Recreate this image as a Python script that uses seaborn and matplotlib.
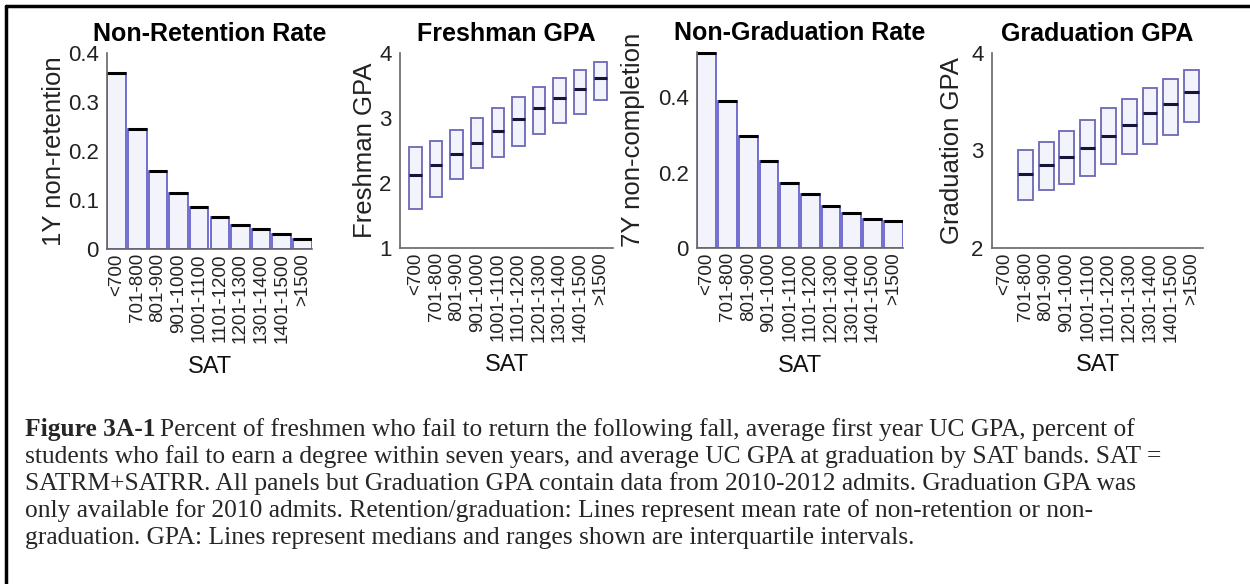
import matplotlib
matplotlib.use("Agg")
import matplotlib.pyplot as plt
from matplotlib.lines import Line2D
import seaborn as sns

# SAT bands shared by all four panels
sat_bands = ["<700", "701-800", "801-900", "901-1000", "1001-1100",
             "1101-1200", "1201-1300", "1301-1400", "1401-1500", ">1500"]

# mean rates
non_retention = [0.359, 0.244, 0.159, 0.115, 0.086, 0.066, 0.048, 0.041, 0.030, 0.021]
non_graduation = [0.517, 0.390, 0.296, 0.232, 0.172, 0.143, 0.112, 0.094, 0.077, 0.071]

# freshman GPA: quartiles
fresh_q1 = [1.60, 1.79, 2.06, 2.23, 2.40, 2.57, 2.75, 2.92, 3.06, 3.28]
fresh_med = [2.12, 2.27, 2.45, 2.61, 2.80, 2.98, 3.15, 3.30, 3.45, 3.61]
fresh_q3 = [2.56, 2.65, 2.82, 3.00, 3.16, 3.33, 3.48, 3.61, 3.74, 3.86]

# graduation GPA: no data for <700
grad_bands = sat_bands[1:]
grad_q1 = [2.49, 2.59, 2.66, 2.74, 2.86, 2.96, 3.07, 3.16, 3.29]
grad_med = [2.76, 2.85, 2.93, 3.03, 3.15, 3.26, 3.38, 3.48, 3.60]
grad_q3 = [3.00, 3.09, 3.20, 3.31, 3.44, 3.53, 3.64, 3.73, 3.83]

caption_lines = [
    "Percent of freshmen who fail to return the following fall, average first year UC GPA, percent of",
    "students who fail to earn a degree within seven years, and average UC GPA at graduation by SAT bands. SAT =",
    "SATRM+SATRR. All panels but Graduation GPA contain data from 2010-2012 admits. Graduation GPA was",
    "only available for 2010 admits. Retention/graduation: Lines represent mean rate of non-retention or non-",
    "graduation. GPA: Lines represent medians and ranges shown are interquartile intervals.",
]

sns.set_theme(style="white")
plt.rcParams["font.family"] = ["Liberation Sans", "DejaVu Sans"]

W, H = 1250, 584
fig = plt.figure(figsize=(W / 100, H / 100), dpi=100)

edge_col = "#5a56c8"
fill_col = "#f3f3fc"
box_edge = "#6b68b8"
axis_col = "#666666"


def make_ax(l, t, r, b):
    return fig.add_axes([l / W, 1 - b / H, (r - l) / W, (b - t) / H])


def style(ax, title, ylabel, ylab_px, axw, ylab_y=0.5):
    sns.despine(ax=ax)
    for s in ["left", "bottom"]:
        ax.spines[s].set_color(axis_col)
        ax.spines[s].set_linewidth(1.2)
    ax.set_xticks(range(len(sat_bands)))
    ax.set_xticklabels(sat_bands, rotation=90, va="top", ha="center")
    ax.tick_params(axis="x", labelsize=13.5, length=0, pad=3, colors="#222222")
    ax.tick_params(axis="y", labelsize=16, length=0, pad=6, colors="#222222")
    ax.text(0.5, 1.095, title, transform=ax.transAxes, ha="center", va="center",
            fontsize=18, fontweight="bold", color="black")
    ax.set_ylabel(ylabel, fontsize=18.5, color="#222222")
    ax.yaxis.label.set_va("center")
    ax.yaxis.set_label_coords(ylab_px / axw, ylab_y)
    ax.set_xlabel("SAT", fontsize=17, color="#111111")
    ax.xaxis.label.set_va("center")
    ax.xaxis.set_label_coords(0.5, -0.6)
    ax.set_facecolor("white")


def bar_panel(ax, vals, ylim, yticks, yticklabels):
    sns.barplot(x=sat_bands, y=vals, order=sat_bands, ax=ax, color=fill_col,
                saturation=1, edgecolor=edge_col, linewidth=1.2, width=0.9)
    xs = range(len(vals))
    ax.hlines(vals, [x - 0.45 for x in xs], [x + 0.45 for x in xs],
              color="black", linewidth=2.2)
    ax.set_xlim(-0.47, 9.47)
    ax.set_ylim(*ylim)
    ax.set_yticks(yticks)
    ax.set_yticklabels(yticklabels)


def box_panel(ax, pos, q1, med, q3, ylim, yticks, xlim, bw):
    stats = [dict(med=m, q1=a, q3=b, whislo=a, whishi=b, fliers=[])
             for a, m, b in zip(q1, med, q3)]
    ax.bxp(stats, positions=pos, widths=bw, patch_artist=True, showcaps=False,
           boxprops=dict(facecolor=fill_col, edgecolor=box_edge, linewidth=1.3),
           medianprops=dict(color="#15153a", linewidth=2.2),
           whiskerprops=dict(linewidth=0), manage_ticks=False)
    ax.set_xlim(*xlim)
    ax.set_ylim(*ylim)
    ax.set_yticks(yticks)
    ax.set_yticklabels([str(t) for t in yticks])


ax1 = make_ax(107, 53, 312, 249)
bar_panel(ax1, non_retention, (0, 0.4), [0, 0.1, 0.2, 0.3, 0.4],
          ["0", "0.1", "0.2", "0.3", "0.4"])
style(ax1, "Non-Retention Rate", "1Y non-retention", -53, 205)

ax2 = make_ax(400, 53, 613, 248)
box_panel(ax2, list(range(10)), fresh_q1, fresh_med, fresh_q3, (1, 4), [1, 2, 3, 4],
          (-0.75, 9.6), 0.6)
style(ax2, "Freshman GPA", "Freshman GPA", -35, 213)

ax3 = make_ax(697, 52, 903, 248)
bar_panel(ax3, non_graduation, (0, 0.52), [0, 0.2, 0.4], ["0", "0.2", "0.4"])
style(ax3, "Non-Graduation Rate", "7Y non-completion", -64, 206, 0.55)

ax4 = make_ax(992, 53, 1203, 248)
box_panel(ax4, list(range(1, 10)), grad_q1, grad_med, grad_q3, (2, 4), [2, 3, 4],
          (-0.6, 9.55), 0.72)
style(ax4, "Graduation GPA", "Graduation GPA", -40, 211)

# frame lines (top and left) around the figure
fig.add_artist(Line2D([6 / W, 1], [1 - 6 / H, 1 - 6 / H], color="black", linewidth=2.5,
                      transform=fig.transFigure))
fig.add_artist(Line2D([6 / W, 6 / W], [0, 1 - 6 / H], color="black", linewidth=2.5,
                      transform=fig.transFigure))

# caption
serif = ["Liberation Serif", "DejaVu Serif"]
x0 = 25 / W
base0 = 436
lead = 27
bold = fig.text(x0, 1 - base0 / H, "Figure 3A-1", family=serif, fontsize=18.4,
                fontweight="bold", va="baseline", ha="left")
renderer = fig.canvas.get_renderer()
bw = bold.get_window_extent(renderer).width
for i, line in enumerate(caption_lines):
    x = x0 + (bw + 5) / W if i == 0 else x0
    fig.text(x, 1 - (base0 + i * lead) / H, line, family=serif, fontsize=18.4,
             va="baseline", ha="left")

fig.savefig("out.png", dpi=100, facecolor="white")
